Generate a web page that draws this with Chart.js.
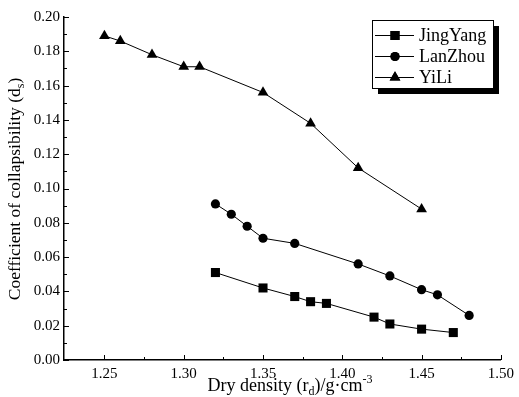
<!DOCTYPE html>
<html lang="en">
<head>
    <meta charset="UTF-8">
    <title>Coefficient of collapsibility vs dry density</title>
    <script src="https://cdn.jsdelivr.net/npm/chart.js@4.4.0/dist/chart.umd.min.js"></script>
    <style>
        body { margin: 0; background: #fff; }
        #wrap { position: relative; width: 519px; height: 397px; }
    </style>
</head>
<body>
    <div id="wrap"><canvas id="chart" width="519" height="397"></canvas></div>

    <script>
        // data
        const jingYangX = [1.32, 1.35, 1.37, 1.38, 1.39, 1.42, 1.43, 1.45, 1.47];
        const jingYangY = [0.051, 0.042, 0.037, 0.034, 0.033, 0.025, 0.021, 0.018, 0.016];
        const lanZhouX = [1.32, 1.33, 1.34, 1.35, 1.37, 1.41, 1.43, 1.45, 1.46, 1.48];
        const lanZhouY = [0.091, 0.085, 0.078, 0.071, 0.068, 0.056, 0.049, 0.041, 0.038, 0.026];
        const yiLiX = [1.25, 1.26, 1.28, 1.30, 1.31, 1.35, 1.38, 1.41, 1.45];
        const yiLiY = [0.189, 0.186, 0.178, 0.171, 0.171, 0.156, 0.138, 0.112, 0.088];

        const seriesNames = ["JingYang", "LanZhou", "YiLi"];
        const seriesStyles = ["rect", "circle", "triangle"];
        const xTicks = [1.25, 1.30, 1.35, 1.40, 1.45, 1.50];
        const yTicks = [0.00, 0.02, 0.04, 0.06, 0.08, 0.10, 0.12, 0.14, 0.16, 0.18, 0.20];

        const FONT = "'Liberation Serif', 'Times New Roman', serif";

        function pts(xs, ys) {
            return xs.map((x, i) => ({ x: x, y: ys[i] }));
        }

        const radii = { rect: 6.4, circle: 4.6, triangle: 6.2 };

        function makeSet(i, xs, ys) {
            return {
                label: seriesNames[i],
                data: pts(xs, ys),
                borderColor: "#000",
                backgroundColor: "#000",
                borderWidth: 1,
                pointStyle: seriesStyles[i],
                pointRadius: radii[seriesStyles[i]],
                pointBorderWidth: 0,
                tension: 0
            };
        }

        // draw text made of parts (normal / subscript / superscript)
        function partsWidth(ctx, parts) {
            let w = 0;
            parts.forEach(p => { ctx.font = p[1] + "px " + FONT; w += ctx.measureText(p[0]).width; });
            return w;
        }
        function drawParts(ctx, parts, x, y) {
            parts.forEach(p => {
                ctx.font = p[1] + "px " + FONT;
                ctx.fillText(p[0], x, y + p[2]);
                x += ctx.measureText(p[0]).width;
            });
        }

        // inward ticks, axis titles and the legend box with its shadow
        const decorations = {
            id: "decorations",
            afterDraw(chart) {
                const ctx = chart.ctx;
                const xs = chart.scales.x, ys = chart.scales.y;
                const a = chart.chartArea;
                ctx.save();
                ctx.strokeStyle = "#000";
                ctx.lineWidth = 1;

                // x ticks (major + minor)
                for (let k = 0; k <= 10; k++) {
                    const v = 1.25 + k * 0.025;
                    const px = Math.round(xs.getPixelForValue(v)) + 0.5;
                    ctx.beginPath();
                    ctx.moveTo(px, a.bottom);
                    ctx.lineTo(px, a.bottom - (k % 2 === 0 ? 5 : 3));
                    ctx.stroke();
                }
                // y ticks
                for (let k = 0; k <= 20; k++) {
                    const v = k / 100;
                    const py = Math.round(ys.getPixelForValue(v)) + 0.5;
                    ctx.beginPath();
                    ctx.moveTo(a.left, py);
                    ctx.lineTo(a.left + (k % 2 === 0 ? 5 : 3), py);
                    ctx.stroke();
                }

                // axis titles
                ctx.fillStyle = "#000";
                ctx.textBaseline = "alphabetic";
                const xParts = [
                    ["Dry density (r", 18, 0],
                    ["d", 12, 4],
                    [")/g\u00b7cm", 18, 0],
                    ["-3", 12, -8]
                ];
                const xw = partsWidth(ctx, xParts);
                drawParts(ctx, xParts, 290 - xw / 2, 391);

                ctx.save();
                ctx.translate(20, 189);
                ctx.rotate(-Math.PI / 2);
                const yParts = [
                    ["Coefficient of collapsibility (d", 17.5, 0],
                    ["s", 12, 4],
                    [")", 17.5, 0]
                ];
                const yw = partsWidth(ctx, yParts);
                drawParts(ctx, yParts, -yw / 2, 0);
                ctx.restore();

                // legend
                const lx = 372, ly = 20, lw = 121, lh = 68;
                ctx.fillStyle = "#000";
                ctx.fillRect(lx + 6, ly + 6, lw, lh);
                ctx.fillStyle = "#fff";
                ctx.fillRect(lx, ly, lw, lh);
                ctx.strokeRect(lx + 0.5, ly + 0.5, lw, lh);
                ctx.font = "18px " + FONT;
                ctx.textBaseline = "middle";
                chart.data.datasets.forEach((ds, i) => {
                    const ry = ly + 15 + i * 21;
                    ctx.beginPath();
                    ctx.moveTo(lx + 3, ry + 0.5);
                    ctx.lineTo(lx + 42, ry + 0.5);
                    ctx.stroke();
                    ctx.fillStyle = "#000";
                    Chart.helpers.drawPoint(ctx, {
                        pointStyle: ds.pointStyle, rotation: 0, borderWidth: 0,
                        radius: ds.pointRadius
                    }, lx + 23, ry + 0.5);
                    ctx.fill();
                    ctx.fillText(ds.label, lx + 47, ry + 1);
                });
                ctx.restore();
            }
        };

        new Chart(document.getElementById("chart"), {
            type: "line",
            data: {
                datasets: [
                    makeSet(0, jingYangX, jingYangY),
                    makeSet(1, lanZhouX, lanZhouY),
                    makeSet(2, yiLiX, yiLiY)
                ]
            },
            options: {
                responsive: false,
                animation: false,
                layout: { padding: { top: 17, right: 16, left: 0, bottom: 0 } },
                plugins: { legend: { display: false }, tooltip: { enabled: false } },
                scales: {
                    x: {
                        type: "linear",
                        min: 1.2245,
                        max: 1.5,
                        afterBuildTicks: s => { s.ticks = xTicks.map(v => ({ value: v })); },
                        afterFit: s => { s.height = 37; },
                        grid: { display: false, drawTicks: false },
                        border: { display: true, color: "#000", width: 1.5 },
                        ticks: {
                            padding: 5,
                            color: "#000",
                            font: { family: FONT, size: 15 },
                            callback: v => v.toFixed(2)
                        }
                    },
                    y: {
                        min: 0,
                        max: 0.2,
                        afterBuildTicks: s => { s.ticks = yTicks.map(v => ({ value: v })); },
                        afterFit: s => { s.width = 64; },
                        grid: { display: false, drawTicks: false },
                        border: { display: true, color: "#000", width: 1.5 },
                        ticks: {
                            padding: 4,
                            color: "#000",
                            font: { family: FONT, size: 15 },
                            callback: v => v.toFixed(2)
                        }
                    }
                }
            },
            plugins: [decorations]
        });
    </script>
</body>
</html>
